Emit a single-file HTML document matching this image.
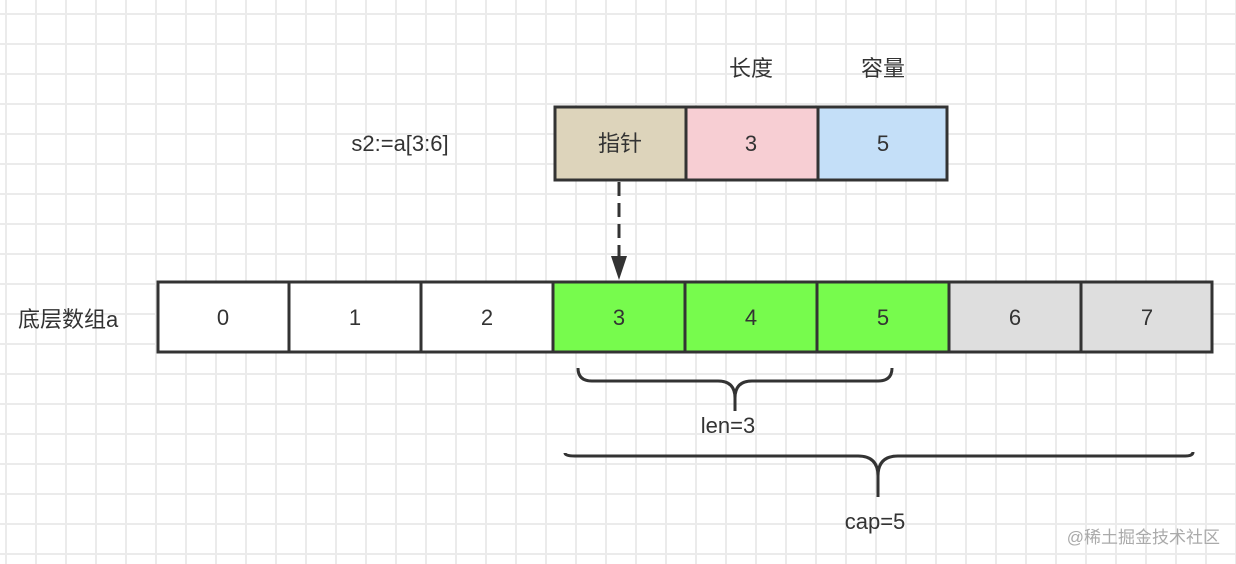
<!DOCTYPE html>
<html><head><meta charset="utf-8"><style>
html,body{margin:0;padding:0;}
body{width:1236px;height:564px;overflow:hidden;background:#fff;
background-image:linear-gradient(to right,#ebebeb 2px,transparent 2px),linear-gradient(to bottom,#ebebeb 2px,transparent 2px);
background-size:30px 30px;background-position:5px 13px;font-family:"Liberation Sans","Noto Sans CJK SC",sans-serif;}
</style></head><body>
<svg width="1236" height="564" style="position:absolute;left:0;top:0" font-family="Liberation Sans, Noto Sans CJK SC, sans-serif">
<g font-size="22" fill="#333" text-anchor="middle">
<text x="751" y="76">长度</text>
<text x="883" y="76">容量</text>
<text x="400" y="151">s2:=a[3:6]</text>
<text x="18" y="327" text-anchor="start">底层数组a</text>
<text x="728" y="433">len=3</text>
<text x="875" y="529">cap=5</text>
</g>
<g stroke="#333" stroke-width="3">
<rect x="555" y="107" width="131" height="73" fill="#ddd4bb"/>
<rect x="686" y="107" width="132" height="73" fill="#f7ced3"/>
<rect x="818" y="107" width="129" height="73" fill="#c4dff8"/>
<rect x="158" y="282" width="131" height="70" fill="#fff"/>
<rect x="289" y="282" width="132" height="70" fill="#fff"/>
<rect x="421" y="282" width="132" height="70" fill="#fff"/>
<rect x="553" y="282" width="132" height="70" fill="#77fb4d"/>
<rect x="685" y="282" width="132" height="70" fill="#77fb4d"/>
<rect x="817" y="282" width="132" height="70" fill="#77fb4d"/>
<rect x="949" y="282" width="132" height="70" fill="#dedede"/>
<rect x="1081" y="282" width="131" height="70" fill="#dedede"/>
</g>
<g font-size="22" fill="#333" text-anchor="middle">
<text x="620" y="151">指针</text><text x="751" y="151">3</text><text x="883" y="151">5</text>
<text x="223" y="325">0</text><text x="355" y="325">1</text><text x="487" y="325">2</text>
<text x="619" y="325">3</text><text x="751" y="325">4</text><text x="883" y="325">5</text>
<text x="1015" y="325">6</text><text x="1147" y="325">7</text>
</g>
<line x1="619" y1="182" x2="619" y2="262" stroke="#333" stroke-width="3" stroke-dasharray="14,7"/>
<polygon points="611,256 627,256 619,280" fill="#333"/>
<g fill="none" stroke="#333" stroke-width="3">
<path d="M578,368 Q578,381 592,381 L718,381 Q735,381 735,398 L735,411 M735,398 Q735,381 752,381 L878,381 Q892,381 892,368"/>
<path d="M565,453 Q565,456 575,456 L858,456 Q878,456 878,476 L878,497 M878,476 Q878,456 898,456 L1185,456 Q1193,456 1193,452"/>
</g>
<text x="1220" y="543" font-size="17" fill="#aaa" text-anchor="end">@稀土掘金技术社区</text>
</svg>
</body></html>
